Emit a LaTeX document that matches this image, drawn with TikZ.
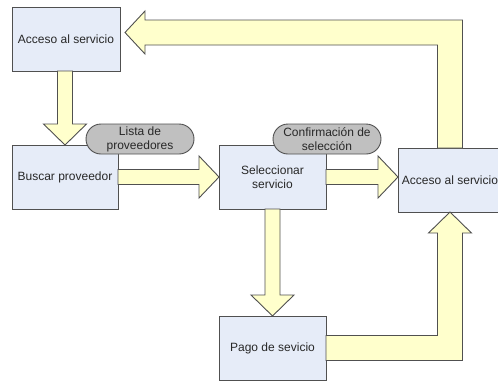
\documentclass[tikz,border=0pt]{standalone}
\usepackage{fontspec}
\setmainfont{Liberation Sans}
\usepackage{tikz}
\usetikzlibrary{calc}

\definecolor{cajafondo}{RGB}{230,236,248}
\definecolor{flechafondo}{RGB}{255,255,204}
\definecolor{etiqfondo}{RGB}{192,192,192}
\definecolor{borde}{RGB}{80,80,80}
\definecolor{texto}{RGB}{40,40,40}

\tikzset{
  caja/.style={draw=borde, fill=cajafondo, line width=0.9pt, minimum width=107, minimum height=64,
    inner sep=0pt, outer sep=0pt, align=center, text=texto, font=\fontsize{12}{14}\selectfont},
  etiqueta/.style={draw=borde, fill=etiqfondo, line width=0.9pt, rounded corners=15, minimum width=108,
    minimum height=30, inner sep=0pt, outer sep=0pt, align=center, text=texto, font=\fontsize{12}{14}\selectfont},
  flecha/.style={draw=borde, fill=flechafondo, line width=0.9pt, line join=miter}
}

% straight block arrows: #1 where the shaft starts, #2 the tip
\newcommand{\flechader}[2]{%
  \draw[flecha] ($(#1)+(0,-7.5)$) -- ($(#2)+(-20,-7.5)$) -- ($(#2)+(-20,-21)$) -- (#2)
    -- ($(#2)+(-20,21)$) -- ($(#2)+(-20,7.5)$) -- ($(#1)+(0,7.5)$) -- cycle;}
\newcommand{\flechaabajo}[2]{%
  \draw[flecha] ($(#1)+(-7.5,0)$) -- ($(#2)+(-7.5,-21)$) -- ($(#2)+(-21.5,-21)$) -- (#2)
    -- ($(#2)+(21.5,-21)$) -- ($(#2)+(7.5,-21)$) -- ($(#1)+(7.5,0)$) -- cycle;}

\begin{document}
\begin{tikzpicture}[x=1pt,y=-1pt]
\useasboundingbox (0,0) rectangle (498,381);

% pasos
\node[caja, minimum width=108] (acceso1) at (66,39) {Acceso al servicio};
\node[caja, minimum width=106] (buscar) at (65,177) {Buscar proveedor};
\node[caja] (seleccionar) at (272.5,177) {Seleccionar\\servicio};
\node[caja, minimum width=104] (acceso2) at (450,180) {Acceso al servicio};
\node[caja] (pago) at (272.5,348) {Pago de sevicio};
\coordinate (punta) at ($(acceso1.east)+(5,-6.5)$);

% flechas
\flechaabajo{acceso1.south -| buscar.north}{buscar.north}
\flechader{buscar.east}{seleccionar.west}
\flechader{seleccionar.east}{acceso2.west |- seleccionar.east}
\flechaabajo{seleccionar.south}{pago.north -| seleccionar.south}
\draw[flecha] ($(pago.east)+(0,-12.5)$) -- ($(acceso2.south |- pago.east)+(-12.5,-12.5)$)
  -- ($(acceso2.south)+(-12.5,21)$) -- ($(acceso2.south)+(-21.5,21)$) -- (acceso2.south)
  -- ($(acceso2.south)+(21.5,21)$) -- ($(acceso2.south)+(12.5,21)$)
  -- ($(acceso2.south |- pago.east)+(12.5,12.5)$) -- ($(pago.east)+(0,12.5)$) -- cycle;
\draw[flecha] ($(acceso2.north)+(-12.5,0)$) -- ($(acceso2.north |- punta)+(-12.5,12.5)$)
  -- ($(punta)+(20,12.5)$) -- ($(punta)+(20,21.5)$) -- (punta)
  -- ($(punta)+(20,-21.5)$) -- ($(punta)+(20,-12.5)$)
  -- ($(acceso2.north |- punta)+(12.5,-12.5)$) -- ($(acceso2.north)+(12.5,0)$) -- cycle;

% mensajes
\node[etiqueta] (lista) at (140,139) {Lista de\\proveedores};
\node[etiqueta] (confirm) at (327,139) {Confirmación de\\selección};
\end{tikzpicture}
\end{document}
